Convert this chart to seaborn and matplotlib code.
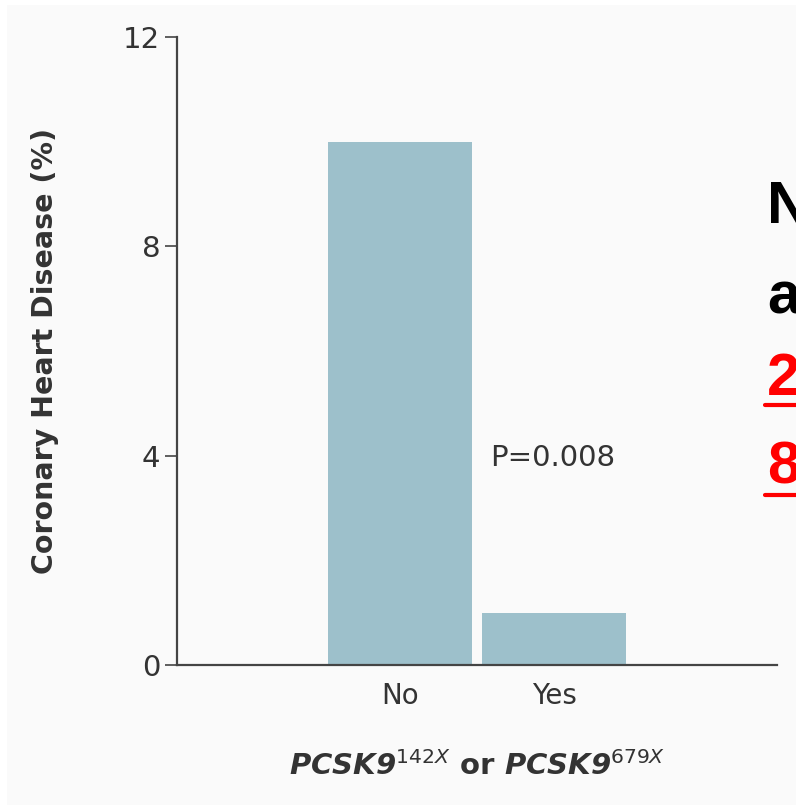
import matplotlib
matplotlib.use("Agg")
import matplotlib.pyplot as plt
from matplotlib.patches import Rectangle
from matplotlib.lines import Line2D
import seaborn as sns
import pandas as pd

# Data
categories = ["No", "Yes"]
chd_percent = [10.0, 1.0]
y_ticks = [0, 4, 8, 12]
p_label = "P=0.008"

sns.set_theme(style="white")
plt.rcParams["font.family"] = ["DejaVu Sans"]
plt.rcParams["mathtext.fontset"] = "dejavusans"

W, H = 796, 805
fig = plt.figure(figsize=(W / 100, H / 100), dpi=100)
fig.patch.set_facecolor("white")
# light slide panel behind the chart
fig.add_artist(Rectangle((7 / W, 0), 1, 1 - 5 / H, transform=fig.transFigure,
                         facecolor="#fafafa", edgecolor="none", zorder=-10))

ax = fig.add_axes([177 / W, 1 - 665 / H, (777 - 177) / W, (665 - 37) / H])
ax.set_facecolor("none")

df = pd.DataFrame({"carrier": categories, "chd": chd_percent})
sns.barplot(data=df, x="carrier", y="chd", color="#9dc0cb", saturation=1,
            width=0.935, ax=ax, edgecolor="none")

ax.set_xlim(-1.448, 2.448)
ax.set_ylim(0, 12)
ax.set_yticks(y_ticks)
ax.set_yticklabels([str(t) for t in y_ticks])

ink = "#333333"
for side in ["top", "right"]:
    ax.spines[side].set_visible(False)
for side in ["left", "bottom"]:
    ax.spines[side].set_color("#444444")
    ax.spines[side].set_linewidth(1.6)

ax.tick_params(axis="y", direction="out", length=9, width=1.2, color="#444444",
               labelsize=21, labelcolor=ink, pad=3, left=True)
ax.tick_params(axis="x", length=0, labelsize=20, labelcolor=ink, pad=12)

ax.set_ylabel("Coronary Heart Disease (%)", fontsize=20.5, fontweight="bold",
              color=ink, labelpad=0)
ax.yaxis.set_label_coords(-0.196, 0.5)
ax.set_xlabel(r"$\mathbfit{PCSK9}^{\mathit{142X}}$ or $\mathbfit{PCSK9}^{\mathit{679X}}$",
              fontsize=21, fontweight="bold", color=ink, labelpad=30)

ax.text(0.584, 3.96, p_label, fontsize=21, color=ink, ha="left", va="center")

# slide text running off the right edge
big = dict(fontsize=43, fontweight="bold", family=["Liberation Sans", "DejaVu Sans"],
           ha="left", va="baseline")
x0 = 767 / W
fig.text(x0, 1 - 223 / H, "N", color="black", **big)
fig.text(x0, 1 - 313 / H, "a", color="black", **big)
fig.text(x0, 1 - 395 / H, "2", color="red", **big)
fig.text(x0, 1 - 483 / H, "8", color="red", **big)
for yy in (405, 495):
    fig.add_artist(Line2D([765 / W, 1.0], [1 - yy / H] * 2, transform=fig.transFigure,
                          color="red", linewidth=3))

fig.savefig("out.png", dpi=100)
